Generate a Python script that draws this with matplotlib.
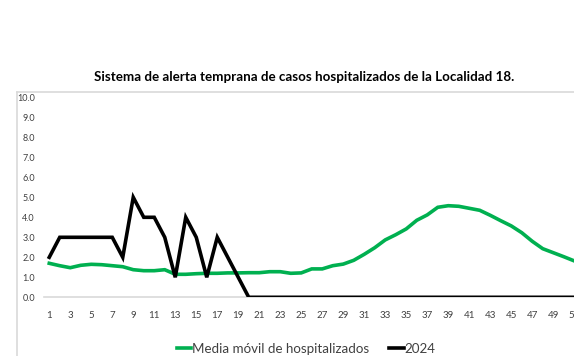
import matplotlib
matplotlib.use("Agg")
import matplotlib.pyplot as plt
from matplotlib.lines import Line2D

# Epidemiological weeks
weeks = list(range(1, 53))

# Moving average of hospitalised cases
media_movil = [1.70, 1.58, 1.48, 1.60, 1.65, 1.63, 1.58, 1.53, 1.38, 1.33,
               1.33, 1.38, 1.15, 1.15, 1.18, 1.20, 1.20, 1.22, 1.22, 1.23,
               1.23, 1.28, 1.28, 1.20, 1.22, 1.42, 1.42, 1.58, 1.66, 1.85,
               2.15, 2.48, 2.87, 3.13, 3.42, 3.85, 4.12, 4.50, 4.58, 4.55,
               4.45, 4.35, 4.10, 3.83, 3.57, 3.23, 2.80, 2.43, 2.23, 2.03,
               1.82, 1.60]

# Hospitalised cases in 2024
casos_2024 = [2, 3, 3, 3, 3, 3, 3, 2, 5, 4,
              4, 3, 1, 4, 3, 1, 3, 2, 1, 0,
              0, 0, 0, 0, 0, 0, 0, 0, 0, 0,
              0, 0, 0, 0, 0, 0, 0, 0, 0, 0,
              0, 0, 0, 0, 0, 0, 0, 0, 0, 0,
              0, 0]

y_ticks = [0, 1, 2, 3, 4, 5, 6, 7, 8, 9, 10]

title = "Sistema de alerta temprana de casos hospitalizados de la Localidad 18."
labels = ["Media móvil de hospitalizados", "2024"]

GREEN = "#00B050"
GRID = "#D9D9D9"

plt.rcParams["font.family"] = ["Lato", "DejaVu Sans"]

W, H = 574, 356
fig = plt.figure(figsize=(W / 100, H / 100), dpi=100)

# chart-area frame (top and left edges)
fig.add_artist(Line2D([17 / W, 1.0], [1 - 92 / H, 1 - 92 / H],
                      color=GRID, lw=1.2, transform=fig.transFigure))
fig.add_artist(Line2D([17 / W, 17 / W], [0, 1 - 92 / H],
                      color=GRID, lw=1.2, transform=fig.transFigure))

left = 44 / W
bottom = (H - 297.3) / H
height = 200 / H
width = 52 * 10.5 / W
ax = fig.add_axes([left, bottom, width, height])

ax.plot(weeks, media_movil, color=GREEN, lw=2.6, solid_joinstyle="miter",
        zorder=3)
ax.plot(weeks, casos_2024, color="black", lw=2.6, solid_joinstyle="miter",
        zorder=4)

ax.set_xlim(0.5, 52.5)
ax.set_ylim(0, 10)
ax.set_yticks(y_ticks)
ax.set_yticklabels([f"{v:.1f}" for v in y_ticks])
ax.set_xticks(weeks[::2])
ax.set_xticklabels([str(w) for w in weeks[::2]])

for s in ["top", "right", "left"]:
    ax.spines[s].set_visible(False)
ax.spines["bottom"].set_color(GRID)
ax.spines["bottom"].set_linewidth(1.2)
ax.spines["bottom"].set_zorder(1)
ax.tick_params(axis="y", length=0, labelsize=6.5, colors="#404040", pad=6.5)
ax.tick_params(axis="x", length=0, labelsize=7, colors="#404040", pad=10)
ax.patch.set_alpha(0)

fig.text(304 / W, 1 - 77 / H, title, ha="center", va="center",
         fontsize=9.6, fontweight="bold", color="black")

handles = [Line2D([], [], color=GREEN, lw=2.6),
           Line2D([], [], color="black", lw=2.6)]
fig.legend(handles, labels, loc="center", bbox_to_anchor=(306 / W, 1 - 349 / H),
           ncol=2, frameon=False, fontsize=9.6, handlelength=1.1,
           handletextpad=0.05, columnspacing=1.5, labelcolor="#404040")

fig.savefig("out.png", dpi=100)
